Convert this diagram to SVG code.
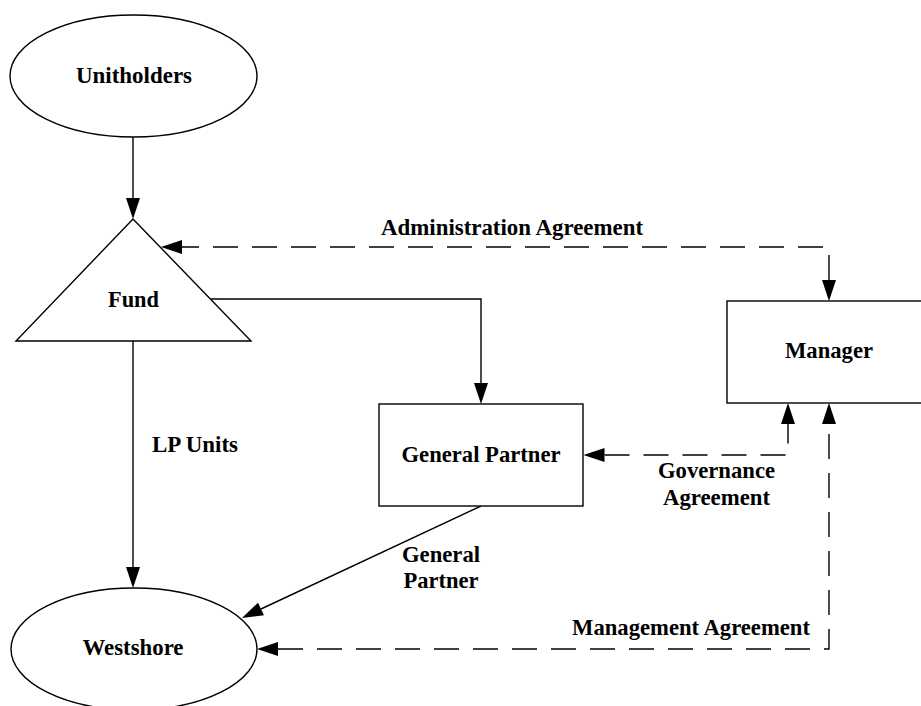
<svg xmlns="http://www.w3.org/2000/svg" width="921" height="706" viewBox="0 0 921 706">
<defs>
<style>
.shape{fill:#fff;stroke:#000;stroke-width:1.4}
.line{fill:none;stroke:#000;stroke-width:1.4}
.dash{fill:none;stroke:#000;stroke-width:1.4;stroke-dasharray:25 14}
text{font-family:"Liberation Serif","Times New Roman",serif;font-weight:bold;font-size:23.5px;fill:#000}
.c{text-anchor:middle}
</style>
<marker id="arr" markerUnits="userSpaceOnUse" markerWidth="22" markerHeight="14" refX="0" refY="7" orient="auto-start-reverse" viewBox="0 0 21 14">
<path d="M0,0 L21,7 L0,14 Z" fill="#000"/>
</marker>
</defs>
<rect width="921" height="706" fill="#fff"/>
<g id="connectors">
<path class="line" d="M133,137 V198" marker-end="url(#arr)"/>
<path class="line" d="M210.5,299 H481 V383" marker-end="url(#arr)"/>
<path class="line" d="M133,341 V567" marker-end="url(#arr)"/>
<path class="line" d="M481,506 L261,609" marker-end="url(#arr)"/>
<path class="dash" d="M829,280 V247 H182" marker-start="url(#arr)" marker-end="url(#arr)"/>
<path class="dash" d="M604.5,455 H788 V424" marker-start="url(#arr)" marker-end="url(#arr)"/>
<path class="dash" d="M278,649 H829 V424" marker-start="url(#arr)" marker-end="url(#arr)"/>
</g>
<g id="unitholders">
<ellipse class="shape" cx="133.5" cy="76" rx="123.5" ry="61"/>
<text class="c" x="134" y="83" textLength="116" lengthAdjust="spacingAndGlyphs">Unitholders</text>
</g>
<g id="fund">
<polygon class="shape" points="133,219 251,341 16,341"/>
<text class="c" x="133.5" y="307" textLength="51" lengthAdjust="spacingAndGlyphs">Fund</text>
</g>
<g id="manager">
<rect class="shape" x="727" y="301" width="210" height="102"/>
<text class="c" x="829" y="358" textLength="88" lengthAdjust="spacingAndGlyphs">Manager</text>
</g>
<g id="general-partner">
<rect class="shape" x="379" y="404" width="204" height="102"/>
<text class="c" x="481" y="462" textLength="159" lengthAdjust="spacingAndGlyphs">General Partner</text>
</g>
<g id="westshore">
<ellipse class="shape" cx="134" cy="649" rx="123" ry="61"/>
<text class="c" x="133" y="655" textLength="101" lengthAdjust="spacingAndGlyphs">Westshore</text>
</g>
<g id="labels">
<text class="c" x="512" y="235" textLength="262" lengthAdjust="spacingAndGlyphs">Administration Agreement</text>
<text x="152" y="452" textLength="86" lengthAdjust="spacingAndGlyphs">LP Units</text>
<text class="c" x="716.5" y="478" textLength="117" lengthAdjust="spacingAndGlyphs">Governance</text>
<text class="c" x="716.5" y="505" textLength="107" lengthAdjust="spacingAndGlyphs">Agreement</text>
<text class="c" x="441" y="562" textLength="78" lengthAdjust="spacingAndGlyphs">General</text>
<text class="c" x="441" y="588" textLength="75" lengthAdjust="spacingAndGlyphs">Partner</text>
<text class="c" x="691" y="635" textLength="238" lengthAdjust="spacingAndGlyphs">Management Agreement</text>
</g>
</svg>
